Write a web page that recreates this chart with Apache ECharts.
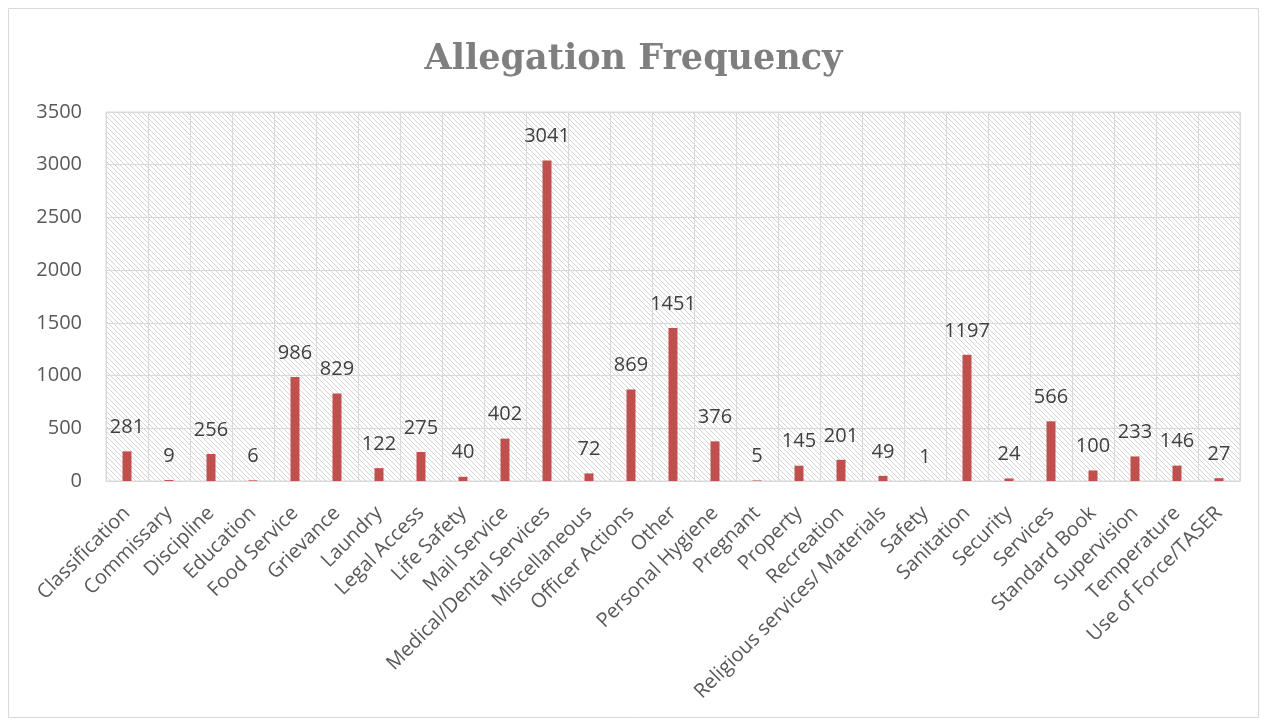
<!DOCTYPE html>
<html><head><meta charset="utf-8">
<script src="https://cdn.jsdelivr.net/npm/echarts@6/dist/echarts.min.js"></script>
<style>html,body{margin:0;padding:0;background:#fff}#c{width:1267px;height:724px}</style>
</head><body><div id="c"></div>
<script>
const categories = ["Classification","Commissary","Discipline","Education","Food Service","Grievance","Laundry","Legal Access","Life Safety","Mail Service","Medical/Dental Services","Miscellaneous","Officer Actions","Other","Personal Hygiene","Pregnant","Property","Recreation","Religious services/ Materials","Safety","Sanitation","Security","Services","Standard Book","Supervision","Temperature","Use of Force/TASER"];
const values = [281,9,256,6,986,829,122,275,40,402,3041,72,869,1451,376,5,145,201,49,1,1197,24,566,100,233,146,27];
const yTicks = [0,500,1000,1500,2000,2500,3000,3500];

const pc = document.createElement('canvas');
pc.width = 5; pc.height = 5;
const g = pc.getContext('2d');
g.fillStyle = '#ffffff'; g.fillRect(0,0,5,5);
g.strokeStyle = '#d4d4d4'; g.lineWidth = 1;
g.beginPath();
g.moveTo(-1,-1); g.lineTo(6,6);
g.moveTo(-6,-1); g.lineTo(1,6);
g.moveTo(4,-1); g.lineTo(11,6);
g.stroke();

const FONT = 'Open Sans';
const chart = echarts.init(document.getElementById('c'), null, {renderer:'canvas'});
chart.setOption({
  animation:false,
  backgroundColor:'#fff',
  title:{text:'Allegation Frequency', left:'center', top:37,
    textStyle:{fontFamily:'DejaVu Serif', fontWeight:'bold', fontSize:35, color:'#7f7f7f'}},
  graphic:[{type:'rect', shape:{x:8.5,y:8.5,width:1250,height:709}, style:{fill:null, stroke:'#d9d9d9', lineWidth:1}, silent:true}],
  grid:{left:106, right:27, top:112, bottom:243, show:true, backgroundColor:{image:pc, repeat:'repeat'}, borderColor:'#d9d9d9', borderWidth:1},
  xAxis:{type:'category', data:categories,
    axisLine:{lineStyle:{color:'#d9d9d9'}}, axisTick:{show:false},
    splitLine:{show:true, lineStyle:{color:'#d9d9d9', width:1}},
    axisLabel:{rotate:45, interval:0, fontFamily:FONT, fontSize:20, color:'#595959', margin:29}},
  yAxis:{type:'value', min:yTicks[0], max:yTicks[yTicks.length-1], interval:500,
    axisLine:{show:false}, axisTick:{show:false},
    splitLine:{lineStyle:{color:'#d9d9d9', width:1}},
    axisLabel:{fontFamily:FONT, fontSize:20, color:'#595959', margin:24, formatter:v=>String(v)}},
  series:[{type:'bar', data:values, barWidth:9, itemStyle:{color:'#c0504d'},
    label:{show:true, position:'top', distance:14, fontFamily:FONT, fontSize:20, color:'#404040'}}]
});
</script></body></html>
